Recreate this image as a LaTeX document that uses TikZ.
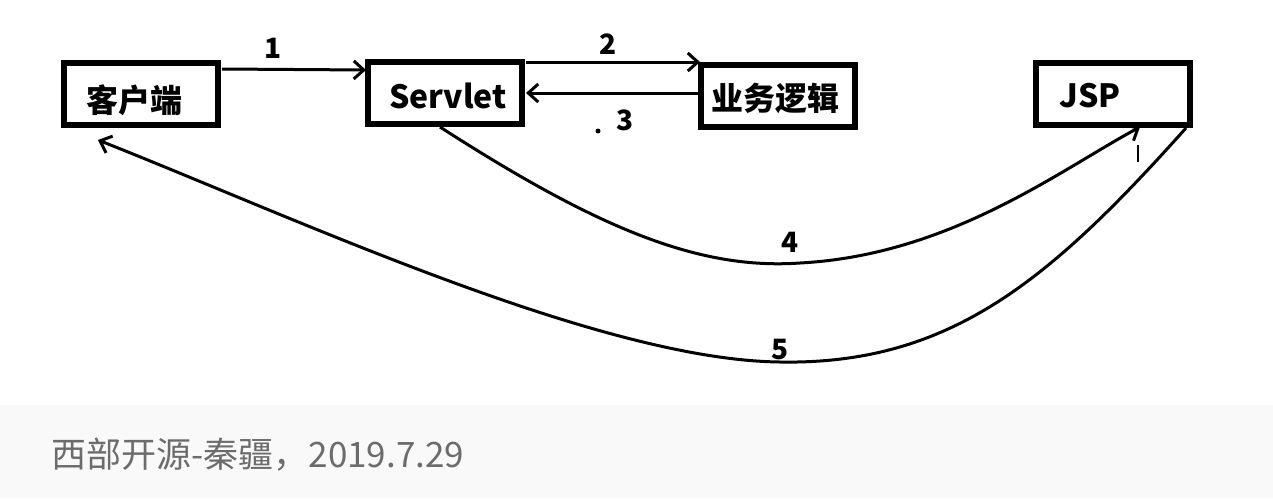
\documentclass[tikz,border=0pt]{standalone}
\usepackage{fontspec}
\setmainfont{Noto Sans CJK SC}
\usetikzlibrary{arrows.meta}
\begin{document}
\begin{tikzpicture}[x=1pt,y=-1pt,
  box/.style={draw,line width=5.5pt,minimum width=154pt,minimum height=62pt,inner sep=0pt},
  txt/.style={font=\bfseries\fontsize{32}{32}\selectfont},
  arr/.style={line width=3pt,-{Straight Barb[length=10pt,width=18pt,line width=3pt]}},
  lab/.style={font=\bfseries\fontsize{28}{28}\selectfont}]
\useasboundingbox (0,0) rectangle (1273,498);
\fill[gray!5] (0,405) rectangle (1273,498);
\node[box] (kh) at (141,94) {};
\node[txt] (khl) at (134,100) {客户端};
\node[box] (sv) at (445,93) {};
\node[txt] (svl) at (448,96) {Servlet};
\node[box] (yw) at (778,96) {};
\node[txt] (ywl) at (775,98) {业务逻辑};
\node[box] (jsp) at (1113,94) {};
\node[txt] (jspl) at (1090,96) {JSP};
\coordinate (a1s) at (222,69); \coordinate (a1e) at (366,70);
\draw[arr] (a1s) -- (a1e);
\node[lab] (l1) at (273,48) {1};
\coordinate (a2s) at (526,62); \coordinate (a2e) at (700,62);
\draw[arr] (a2s) -- (a2e);
\node[lab] (l2) at (608,44) {2};
\coordinate (a3s) at (700,93); \coordinate (a3e) at (526,93);
\draw[arr] (a3s) -- (a3e);
\node[lab] (l3) at (625,120) {3};
\fill (598,131) circle (2.5pt);
\coordinate (a4s) at (440,127); \coordinate (a4e) at (1140,127);
\draw[arr] (a4s) .. controls (600,230) and (700,270) .. (800,263)
  .. controls (950,255) and (1060,170) .. (a4e);
\draw[line width=2.5pt] (1138,145) -- (1138,162);
\node[lab] (l4) at (790,242) {4};
\coordinate (a5s) at (1186,128); \coordinate (a5e) at (98,140);
\draw[arr] (a5s) .. controls (1050,280) and (950,365) .. (780,362)
  .. controls (600,360) and (300,220) .. (a5e);
\node[lab] (l5) at (780,350) {5};
\node[anchor=west,text=gray!85!black,font=\fontsize{35}{35}\selectfont] (cap) at (48,455) {西部开源-秦疆，2019.7.29};
\end{tikzpicture}
\end{document}
